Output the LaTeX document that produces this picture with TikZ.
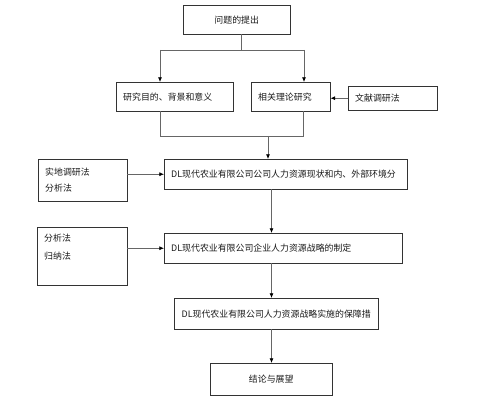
\documentclass[tikz,border=0pt]{standalone}
\usepackage{fontspec}
\newfontfamily\cjk{Noto Sans CJK SC}
\usetikzlibrary{arrows.meta}
\tikzset{
    blk/.style={draw=black!80, anchor=north west, inner xsep=0.21cm, inner ysep=0pt,
        text=black!90, align=left, font=\cjk\fontsize{7.6}{9}\selectfont},
    link/.style={draw=black!60, line width=0.6pt},
    arr/.style={link, -{Latex[length=4pt,width=3.5pt,color=black]}}
}
\begin{document}
\begin{tikzpicture}[x=0.03cm, y=-0.03cm]
    \useasboundingbox (0,0) rectangle (484,403);

    % main line
    \node[blk, align=center, text width=2.79cm, minimum height=0.87cm] (q) at (183,5) {问题的提出};
    \node[blk, text width=3.09cm, minimum height=0.87cm] (aim) at (116,82) {研究目的、背景和意义};
    \node[blk, text width=1.95cm, minimum height=0.87cm] (theory) at (251,82) {相关理论研究};
    \node[blk, text width=6.87cm, minimum height=0.9cm] (status) at (164,159) {DL现代农业有限公司公司人力资源现状和内、外部环境分};
    \node[blk, text width=6.72cm, minimum height=0.9cm] (strat) at (164,233) {DL现代农业有限公司企业人力资源战略的制定};
    \node[blk, align=center, text width=5.70cm, minimum height=0.93cm] (impl) at (174,298) {DL现代农业有限公司人力资源战略实施的保障措};
    \node[blk, align=center, text width=3.24cm, minimum height=0.96cm] (concl) at (210,363) {结论与展望};

    % methods
    \node[blk, text width=2.25cm, minimum height=0.72cm] (lit) at (348,86) {文献调研法};
    \node[blk, text width=2.25cm, minimum height=1.26cm, font=\cjk\fontsize{7.6}{14}\selectfont] (field) at (38,159) {实地调研法\\分析法};
    \node[blk, text width=2.28cm, minimum height=1.74cm, font=\cjk\fontsize{7.6}{16}\selectfont] (anal) at (37,227) {分析法\\归纳法\\\mbox{}};

    \coordinate (tl) at (160,50);
    \coordinate (tr) at (304,50);
    \coordinate (tm) at (241,50);
    \coordinate (bl) at (160,136);
    \coordinate (br) at (303,136);
    \coordinate (bm) at (268,136);
    \coordinate (c2) at (271.5,0);

    \draw[link] (tm |- q.south) -- (tm);
    \draw[link] (tl) -- (tr);
    \draw[arr] (tl) -- (tl |- aim.north);
    \draw[arr] (tr) -- (tr |- theory.north);

    \draw[link] (bl |- aim.south) -- (bl) -- (br) -- (br |- theory.south);
    \draw[arr] (bm) -- (bm |- status.north);

    \draw[arr] (c2 |- status.south) -- (c2 |- strat.north);
    \draw[arr] (c2 |- strat.south) -- (c2 |- impl.north);
    \draw[arr] (c2 |- impl.south) -- (c2 |- concl.north);

    \draw[arr] (lit.west) -- (theory.east |- lit.west);
    \draw[arr] (field.east |- status.west) -- (status.west);
    \draw[arr] (anal.east |- strat.west) -- (strat.west);
\end{tikzpicture}
\end{document}
